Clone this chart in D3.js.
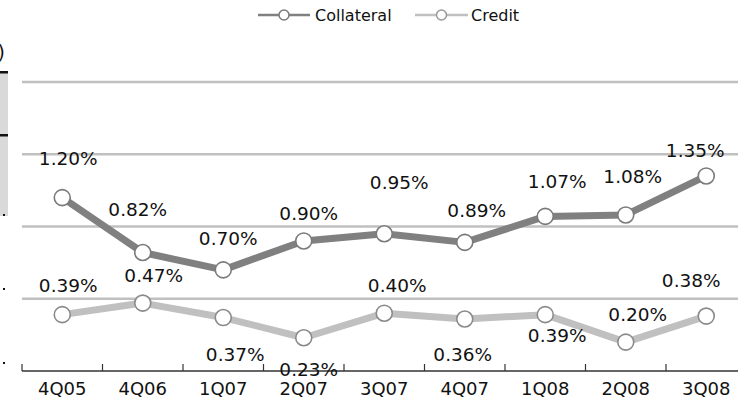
<!DOCTYPE html>
<html>
<head>
<meta charset="utf-8">
<script src="https://cdn.jsdelivr.net/npm/d3@7"></script>
<style>
  html, body { margin: 0; padding: 0; background: #fff; }
  svg { display: block; font-family: "DejaVu Sans", Verdana, sans-serif; }
</style>
</head>
<body>
<svg id="chart" width="738" height="419"></svg>
<script>
// Quarterly loss rates (%)
const quarters = ["4Q05", "4Q06", "1Q07", "2Q07", "3Q07", "4Q07", "1Q08", "2Q08", "3Q08"];
const collateral = [1.20, 0.82, 0.70, 0.90, 0.95, 0.89, 1.07, 1.08, 1.35];
const credit = [0.39, 0.47, 0.37, 0.23, 0.40, 0.36, 0.39, 0.20, 0.38];
const gridValues = [0.5, 1.0, 1.5, 2.0];
const seriesNames = ["Collateral", "Credit"];

// Label nudges (px) relative to each point, keeping labels clear of the lines
const collateralLabelShift = [[6, -39], [-5, -43], [5, -32], [5, -28], [15, -51], [12, -32], [12, -35], [7, -39], [-11, -26]];
const creditLabelShift = [[6, -29], [11, -28], [12, 37], [5, 32], [13, -28], [-2, 35.5], [12, 21], [12, -27.5], [-15, -35.5]];

const svg = d3.select("#chart");
const W = 738;

const x = d3.scaleBand().domain(quarters).range([22, 22 + 9 * 80.5]).paddingInner(0).paddingOuter(0);
const y = d3.scaleLinear().domain([0, 2]).range([371, 82]);
const cx = q => x(q) + x.bandwidth() / 2;

// Clipped remnants at the left edge
svg.append("rect").attr("x", 0).attr("y", 72).attr("width", 8).attr("height", 144).attr("fill", "#d9d9d9");
svg.append("rect").attr("x", 0).attr("y", 71).attr("width", 8).attr("height", 2.5).attr("fill", "#111");
svg.append("rect").attr("x", 0).attr("y", 134).attr("width", 8).attr("height", 2.5).attr("fill", "#111");
svg.append("text").attr("x", 5).attr("y", 59).attr("text-anchor", "end")
  .attr("font-size", 19).attr("fill", "#111").text(")");
[0.5, 1.0, 1.5].forEach(() => {});
[214, 288, 362].forEach(py => {
  svg.append("rect").attr("x", 3).attr("y", py).attr("width", 2).attr("height", 2).attr("fill", "#111");
});

// Horizontal gridlines
svg.append("g").selectAll("line").data(gridValues).join("line")
  .attr("x1", 22).attr("x2", W)
  .attr("y1", d => y(d)).attr("y2", d => y(d))
  .attr("stroke", "#c0c0c0").attr("stroke-width", 2.5);

// Category axis with inward ticks at band boundaries
const axisG = svg.append("g").attr("transform", `translate(0,${y(0)})`);
axisG.append("line").attr("x1", 22).attr("x2", W).attr("y1", 0).attr("y2", 0)
  .attr("stroke", "#333").attr("stroke-width", 1.5);
axisG.selectAll("line.tick").data(quarters).join("line").attr("class", "tick")
  .attr("x1", d => x(d)).attr("x2", d => x(d)).attr("y1", 0).attr("y2", -7)
  .attr("stroke", "#333").attr("stroke-width", 1.2);
axisG.selectAll("text").data(quarters).join("text")
  .attr("x", d => cx(d)).attr("y", 24)
  .attr("text-anchor", "middle").attr("font-size", 18).attr("fill", "#111")
  .text(d => d);

function drawSeries(values, lineColor, markerStroke, shifts) {
  const pts = quarters.map((q, i) => ({ q, v: values[i], i }));
  const line = d3.line().x(d => cx(d.q)).y(d => y(d.v));
  svg.append("path").datum(pts).attr("d", line)
    .attr("fill", "none").attr("stroke", lineColor).attr("stroke-width", 7)
    .attr("stroke-linejoin", "round");
  svg.append("g").selectAll("circle").data(pts).join("circle")
    .attr("cx", d => cx(d.q)).attr("cy", d => y(d.v)).attr("r", 8)
    .attr("fill", "#fff").attr("stroke", markerStroke).attr("stroke-width", 1.6);
  return pts;
}

const cPts = drawSeries(collateral, "#808080", "#7a7a7a", collateralLabelShift);
const kPts = drawSeries(credit, "#c0c0c0", "#8a8a8a", creditLabelShift);

function drawLabels(pts, shifts) {
  svg.append("g").selectAll("text").data(pts).join("text")
    .attr("x", d => cx(d.q) + shifts[d.i][0])
    .attr("y", d => y(d.v) + shifts[d.i][1])
    .attr("dy", "0.36em")
    .attr("text-anchor", "middle").attr("font-size", 18.5).attr("fill", "#111")
    .text(d => d.v.toFixed(2) + "%");
}
drawLabels(cPts, collateralLabelShift);
drawLabels(kPts, creditLabelShift);

// Legend
const legend = [
  { name: seriesNames[0], color: "#808080", stroke: "#7a7a7a", x0: 258, x1: 310, tx: 315 },
  { name: seriesNames[1], color: "#c0c0c0", stroke: "#9a9a9a", x0: 415, x1: 468, tx: 471 }
];
const lg = svg.append("g").selectAll("g").data(legend).join("g");
lg.append("line").attr("x1", d => d.x0).attr("x2", d => d.x1).attr("y1", 15).attr("y2", 15)
  .attr("stroke", d => d.color).attr("stroke-width", 2.5);
lg.append("circle").attr("cx", d => (d.x0 + d.x1) / 2).attr("cy", 15).attr("r", 5)
  .attr("fill", "#fff").attr("stroke", d => d.stroke).attr("stroke-width", 1.5);
lg.append("text").attr("x", d => d.tx).attr("y", 15).attr("dy", "0.36em")
  .attr("font-size", 16).attr("fill", "#111").text(d => d.name);
</script>
</body>
</html>
